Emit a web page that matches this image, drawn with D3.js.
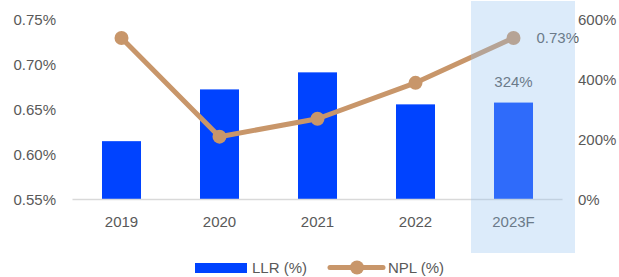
<!DOCTYPE html>
<html>
<head>
<meta charset="utf-8">
<script src="https://cdn.jsdelivr.net/npm/d3@7"></script>
<style>
  body { margin: 0; background: #fff; }
  svg text { font-family: "Liberation Sans", Arial, sans-serif; fill: #595959; }
</style>
</head>
<body>
<div id="chart"></div>
<script>
// data
const years = ["2019", "2020", "2021", "2022", "2023F"];
const llr = [195, 368, 425, 318, 324];       // bars, right axis (%)
const npl = [0.73, 0.62, 0.64, 0.68, 0.73];  // line, left axis (%)
const leftTicks = [0.55, 0.60, 0.65, 0.70, 0.75];
const rightTicks = [0, 200, 400, 600];

const width = 619, height = 277;
const barColor = "#0043ff", lineColor = "#c8966a";

const svg = d3.select("#chart").append("svg")
    .attr("width", width)
    .attr("height", height);

// scales
const x = d3.scaleBand().domain(years).range([72.5, 562.5])
    .paddingInner(0.602).paddingOuter(0.301);
const yL = d3.scaleLinear().domain([0.55, 0.75]).range([199.5, 20]);
const yR = d3.scaleLinear().domain([0, 600]).range([199.5, 20]);

// left axis labels
svg.append("g").selectAll("text").data(leftTicks).join("text")
    .attr("x", 56).attr("y", d => yL(d)).attr("dy", "0.35em")
    .attr("text-anchor", "end").style("font-size", "15px")
    .text(d => d.toFixed(2) + "%");

// right axis labels
svg.append("g").selectAll("text").data(rightTicks).join("text")
    .attr("x", 578).attr("y", d => yR(d)).attr("dy", "0.35em")
    .attr("text-anchor", "start").style("font-size", "15px")
    .text(d => d + "%");

// bars
svg.append("g").selectAll("rect").data(years).join("rect")
    .attr("x", d => x(d))
    .attr("width", x.bandwidth())
    .attr("y", (d, i) => yR(llr[i]))
    .attr("height", (d, i) => yR(0) - yR(llr[i]))
    .attr("fill", barColor);

// baseline
svg.append("line")
    .attr("x1", 72.5).attr("x2", 562.5)
    .attr("y1", 199.5).attr("y2", 199.5)
    .attr("stroke", "#d9d9d9").attr("stroke-width", 1.5);

// x labels
svg.append("g").selectAll("text").data(years).join("text")
    .attr("x", d => x(d) + x.bandwidth() / 2).attr("y", 227)
    .attr("text-anchor", "middle").style("font-size", "15px")
    .text(d => d);

// NPL line
const cx = d => x(d) + x.bandwidth() / 2;
const line = d3.line().x((d, i) => cx(years[i])).y(d => yL(d));
svg.append("path").datum(npl)
    .attr("d", line)
    .attr("fill", "none")
    .attr("stroke", lineColor)
    .attr("stroke-width", 5)
    .attr("stroke-linejoin", "round");
svg.append("g").selectAll("circle").data(npl).join("circle")
    .attr("cx", (d, i) => cx(years[i]))
    .attr("cy", d => yL(d))
    .attr("r", 7)
    .attr("fill", lineColor);

// data labels on last point
const last = years.length - 1;
svg.append("text")
    .attr("x", cx(years[last])).attr("y", yR(llr[last]) - 21)
    .attr("dy", "0.35em").attr("text-anchor", "middle")
    .style("font-size", "15px")
    .text(llr[last] + "%");
svg.append("text")
    .attr("x", cx(years[last]) + 23).attr("y", yL(npl[last]))
    .attr("dy", "0.35em").attr("text-anchor", "start")
    .style("font-size", "15px")
    .text(npl[last].toFixed(2) + "%");

// forecast highlight, drawn on top
svg.append("rect")
    .attr("x", x(years[last]) - 23)
    .attr("y", 1)
    .attr("width", 104)
    .attr("height", 252)
    .attr("fill", "rgb(145,192,240)")
    .attr("opacity", 0.32);

// legend
const lg = svg.append("g");
lg.append("rect").attr("x", 195).attr("y", 263).attr("width", 52).attr("height", 10)
    .attr("fill", barColor);
lg.append("text").attr("x", 252).attr("y", 268).attr("dy", "0.35em")
    .style("font-size", "15px").text("LLR (%)");
lg.append("line").attr("x1", 330).attr("x2", 383).attr("y1", 267.5).attr("y2", 267.5)
    .attr("stroke", lineColor).attr("stroke-width", 5).attr("stroke-linecap", "round");
lg.append("circle").attr("cx", 357).attr("cy", 267.5).attr("r", 7).attr("fill", lineColor);
lg.append("text").attr("x", 388).attr("y", 268).attr("dy", "0.35em")
    .style("font-size", "15px").text("NPL (%)");
</script>
</body>
</html>
